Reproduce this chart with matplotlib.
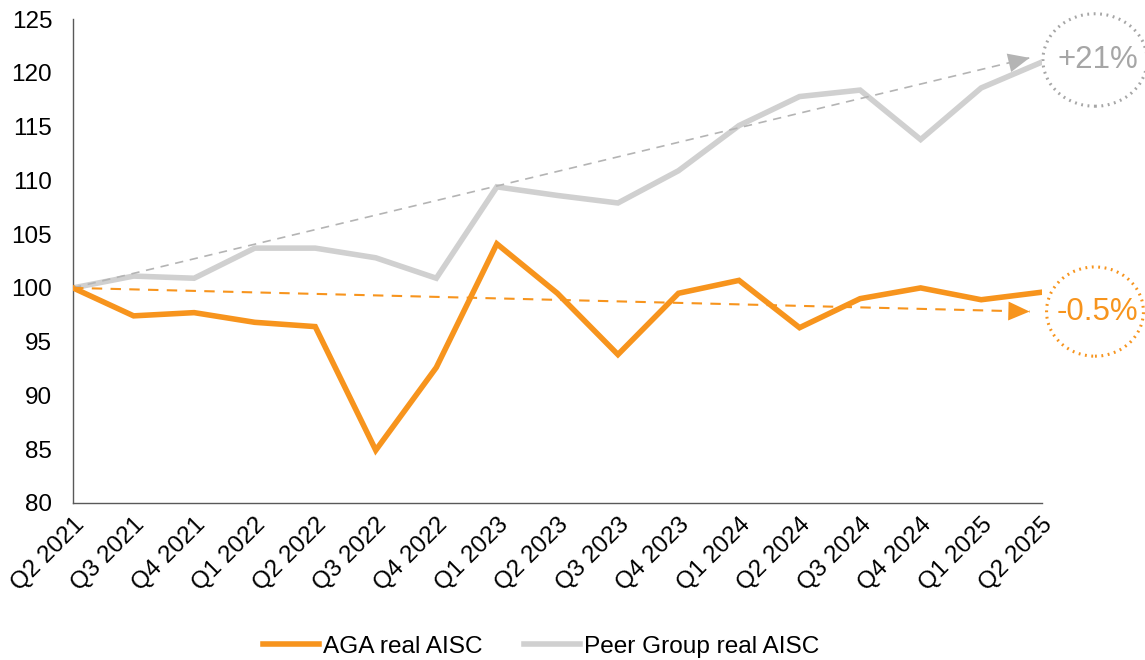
import matplotlib.pyplot as plt
from matplotlib.patches import Ellipse

plt.rcParams['font.family'] = ['Liberation Sans', 'DejaVu Sans']

# Quarterly real AISC, indexed to Q2 2021 = 100
quarters = ["Q2 2021", "Q3 2021", "Q4 2021", "Q1 2022", "Q2 2022", "Q3 2022",
            "Q4 2022", "Q1 2023", "Q2 2023", "Q3 2023", "Q4 2023", "Q1 2024",
            "Q2 2024", "Q3 2024", "Q4 2024", "Q1 2025", "Q2 2025"]
aga = [100, 97.4, 97.7, 96.8, 96.4, 84.9, 92.6, 104.1, 99.5, 93.8,
       99.5, 100.7, 96.3, 99.0, 100.0, 98.9, 99.6]
peer = [100, 101.1, 100.9, 103.7, 103.7, 102.8, 100.9, 109.4, 108.6, 107.9,
        110.9, 115.1, 117.8, 118.4, 113.8, 118.6, 121.0]

# trend arrows: start and end (x in quarter index)
trend_x = [0, 15.8]
aga_trend = [100, 97.8]
peer_trend = [100, 121.4]
aga_label = "-0.5%"
peer_label = "+21%"

orange = "#F7941D"
grey = "#D0D0D0"
grey_dark = "#A6A6A6"

fig = plt.figure(figsize=(11.45, 6.6), dpi=100)
ax = fig.add_axes([0.0638, 0.238, 0.846, 0.733])

x = range(len(quarters))
ax.plot(x, aga, color=orange, lw=4, label="AGA real AISC", solid_joinstyle='miter', zorder=3)
ax.plot(x, peer, color=grey, lw=4, label="Peer Group real AISC", solid_joinstyle='miter', zorder=2)

# dashed trend lines with solid arrow heads
for ys, col, lw in [(peer_trend, "#B4B4B4", 1.2), (aga_trend, orange, 1.5)]:
    ax.plot(trend_x, ys, color=col, lw=lw, ls=(0, (5, 4)), clip_on=False, zorder=4)
    dx = 0.3
    slope = (ys[1] - ys[0]) / (trend_x[1] - trend_x[0])
    ax.annotate("", xy=(trend_x[1], ys[1]),
                xytext=(trend_x[1] - dx, ys[1] - slope * dx),
                arrowprops=dict(arrowstyle="-|>,head_length=0.9,head_width=0.4",
                                color=col, lw=0, shrinkA=0, shrinkB=0,
                                mutation_scale=17),
                annotation_clip=False, zorder=4)

# dotted circles with the change labels
for cy, h, w, col, txt in [(121.2, 8.6, 1.72, grey_dark, peer_label),
                           (97.8, 8.3, 1.6, orange, aga_label)]:
    ax.add_patch(Ellipse((16.88, cy), w, h, fill=False, ec=col, lw=2.2,
                         ls=(0, (0.6, 1.5)), clip_on=False))
    ax.text(16.92, cy, txt, color=col, fontsize=22.5, ha='center', va='center')

ax.set_xlim(0, 16)
ax.set_ylim(80, 125)
ax.set_yticks(range(80, 126, 5))
ax.set_xticks(list(x))
ax.set_xticklabels(quarters, rotation=45, ha='right', rotation_mode='anchor')
ax.tick_params(axis='both', length=0, labelsize=17.5, colors="black")
ax.tick_params(axis='y', pad=15)
ax.tick_params(axis='x', pad=8)
for s in ['top', 'right']:
    ax.spines[s].set_visible(False)
for s in ['left', 'bottom']:
    ax.spines[s].set_color("#595959")
    ax.spines[s].set_linewidth(1)

fig.legend(loc='lower center', bbox_to_anchor=(0.4725, -0.03), ncol=2, frameon=False,
           fontsize=17.6, handlelength=2.3, handletextpad=0.15, columnspacing=1.7)

fig.savefig("out.png", dpi=100)
